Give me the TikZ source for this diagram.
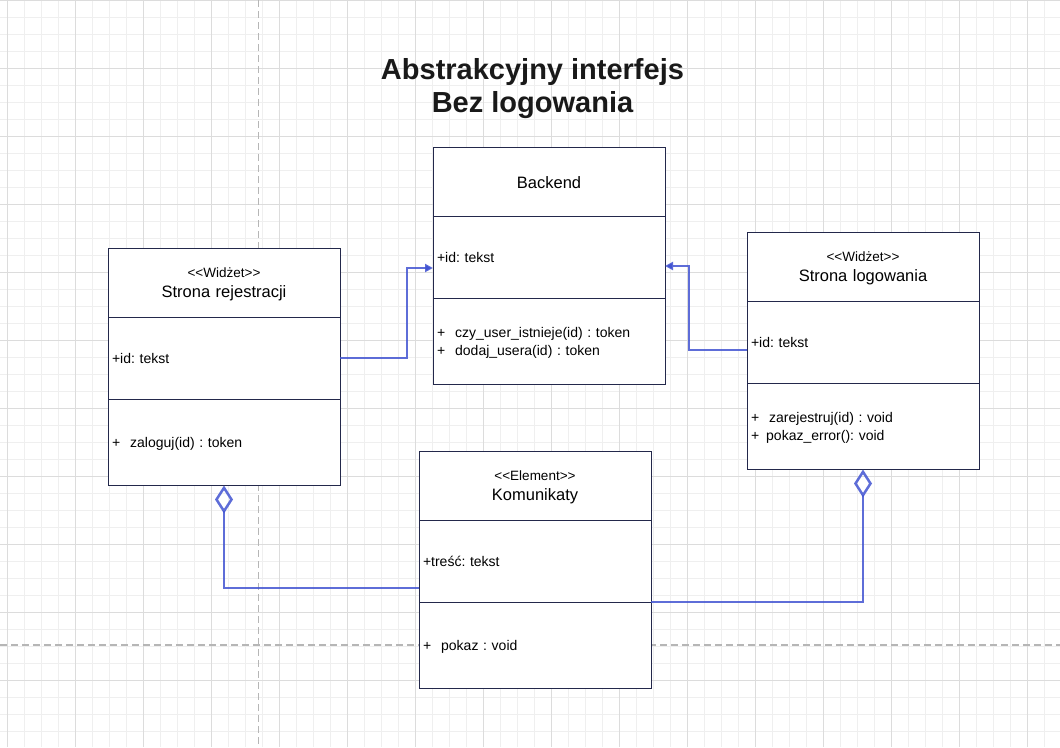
\documentclass[tikz,border=0pt]{standalone}
\usepackage{fontspec}
\setmainfont{Liberation Sans}
\usetikzlibrary{arrows.meta}
\definecolor{gridminor}{RGB}{239,239,239}
\definecolor{gridmajor}{RGB}{220,220,220}
\definecolor{pageline}{RGB}{182,182,182}
\definecolor{boxline}{RGB}{35,40,75}
\definecolor{conncol}{RGB}{66,84,210}
\definecolor{titlecol}{RGB}{25,25,25}
\frenchspacing
\newcommand\dnline[1]{\raisebox{-2pt}[\height][\depth]{#1}}
\begin{document}
\begin{tikzpicture}[x=1pt,y=-1pt,
  comp/.style={draw=boxline, line width=1pt, fill=white, text width=224pt, inner sep=4pt,
    outer sep=0pt, anchor=north west, font=\fontsize{14}{18}\selectfont, align=left},
  headbox/.style={comp, align=center, font=\fontsize{16.5}{20.5}\selectfont, minimum height=69pt},
  attrbox/.style={comp, minimum height=82pt},
  methbox/.style={comp, minimum height=86.5pt},
  conn/.style={draw=conncol, line width=2.5pt, draw opacity=0.85},
  assocarrow/.style={conn, -{Triangle[length=8pt,width=8pt]}},
  aggarrow/.style={conn, -{Diamond[open,length=28pt,width=18pt]}}
]
\useasboundingbox (0,0) rectangle (1060,747);
\fill[white] (0,0) rectangle (1060,747);
% grid
\foreach \k in {0,...,61} \draw[gridminor, line width=1pt] ({7.5+17*\k},0) -- ({7.5+17*\k},747);
\foreach \k in {0,...,43} \draw[gridminor, line width=1pt] (0,{17*\k}) -- (1060,{17*\k});
\foreach \k in {0,...,15} \draw[gridmajor, line width=1pt] ({7.5+68*\k},0) -- ({7.5+68*\k},747);
\foreach \k in {0,...,10} \draw[gridmajor, line width=1pt] (0,{68*\k}) -- (1060,{68*\k});
% page breaks
\draw[pageline, line width=1.2pt, dash pattern=on 7pt off 4pt] (258.3,0) -- (258.3,747);
\draw[pageline, line width=1.2pt, dash pattern=on 7pt off 4pt] (0,645) -- (1060,645);

% title
\node[font=\bfseries\fontsize{29}{33}\selectfont, align=center, text=titlecol] (title) at (532.5,88.5)
  {Abstrakcyjny interfejs\\Bez logowania};

% Backend
\node[headbox] (bh) at (433,147) {\raisebox{-1pt}[\height][\depth]{Backend}};
\node[attrbox] (ba) at (bh.south west) {+id: tekst};
\node[methbox] (bm) at (ba.south west) {\dnline{+\hspace{10pt}czy\_user\_istnieje(id) : token}\\\dnline{+\hspace{10pt}dodaj\_usera(id) : token}};

% Strona rejestracji
\node[headbox] (rh) at (108,248) {\dnline{\fontsize{13.5}{20.5}\selectfont <{}<Widżet>{}>}\\\dnline{Strona rejestracji}};
\node[attrbox] (ra) at (rh.south west) {+id: tekst};
\node[methbox] (rm) at (ra.south west) {\dnline{+\hspace{10pt}zaloguj(id) : token}};

% Strona logowania
\node[headbox] (lh) at (747,232) {\dnline{\fontsize{13.5}{20.5}\selectfont <{}<Widżet>{}>}\\\dnline{Strona logowania}};
\node[attrbox] (la) at (lh.south west) {+id: tekst};
\node[methbox] (lm) at (la.south west) {\dnline{+\hspace{10pt}zarejestruj(id) : void}\\\dnline{+\hspace{7pt}pokaz\_error(): void}};

% Komunikaty
\node[headbox] (kh) at (419,451) {\dnline{\fontsize{13.5}{20.5}\selectfont <{}<Element>{}>}\\\dnline{Komunikaty}};
\node[attrbox] (ka) at (kh.south west) {+treść: tekst};
\node[methbox] (km) at (ka.south west) {\dnline{+\hspace{10pt}pokaz : void}};

% connectors
\draw[assocarrow] (ra.east) -- ++(67,0) |- ([yshift=-11pt]ba.west);
\draw[assocarrow] ([yshift=-8pt]la.west) -- ++(-58,0) |- ([yshift=-9pt]ba.east);
\draw[aggarrow] ([yshift=-27pt]ka.west) -| (rm.south);
\draw[aggarrow] (km.north east) -| (lm.south);
\end{tikzpicture}
\end{document}
